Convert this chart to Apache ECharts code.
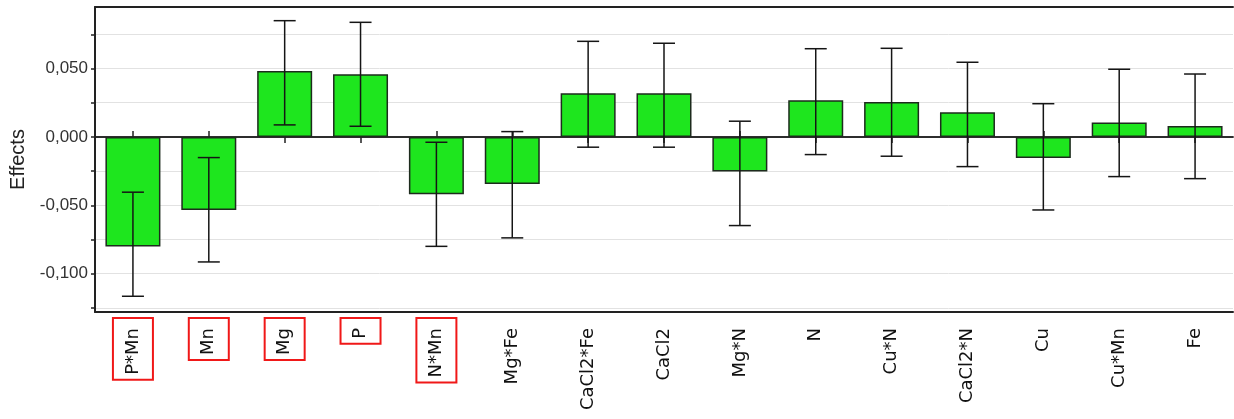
<!DOCTYPE html>
<html>
<head>
<meta charset="utf-8">
<script src="https://cdn.jsdelivr.net/npm/echarts@6/dist/echarts.min.js"></script>
<style>html,body{margin:0;padding:0;background:#fff}#c{width:1234px;height:419px}</style>
</head>
<body>
<div id="c"></div>
<script>
const categories = ['P*Mn','Mn','Mg','P','N*Mn','Mg*Fe','CaCl2*Fe','CaCl2','Mg*N','N','Cu*N','CaCl2*N','Cu','Cu*Mn','Fe'];
const effects = [-0.0802, -0.0534, 0.0482, 0.0458, -0.0419, -0.0344, 0.0319, 0.0319, -0.0253, 0.0268, 0.0256, 0.0180, -0.0154, 0.0105, 0.0080];
const errLow  = [-0.1165, -0.0914, 0.0088, 0.0078, -0.0800, -0.0738, -0.0075, -0.0075, -0.0648, -0.0129, -0.0141, -0.0217, -0.0534, -0.0290, -0.0305];
const errHigh = [-0.0404, -0.0151, 0.0850, 0.0838, -0.0039, 0.0039, 0.0699, 0.0685, 0.0115, 0.0645, 0.0648, 0.0546, 0.0243, 0.0495, 0.0460];
const highlighted = ['P*Mn','Mn','Mg','P','N*Mn'];
const yTicks = [-0.125, -0.1, -0.075, -0.05, -0.025, 0, 0.025, 0.05, 0.075];
const yLabels = [-0.1, -0.05, 0, 0.05];

const chart = echarts.init(document.getElementById('c'));
const fmt = v => (v < 0 ? '-' : '') + Math.abs(v).toFixed(3).replace('.', ',');
const baseX = {type: 'category', data: categories, gridIndex: 0};
const yMin = -0.128, yMax = 0.095;
const labelFont = {fontFamily: 'DejaVu Sans', fontSize: 18, color: '#111', padding: [11, 10, 11, 5]};

chart.setOption({
  animation: false,
  grid: {left: 95, right: 1, top: 7, bottom: 107, outerBoundsMode: 'none', containLabel: false},
  xAxis: [
    Object.assign({}, baseX, {
      position: 'bottom',
      axisLine: {onZero: false, lineStyle: {color: '#222', width: 2}},
      axisTick: {show: false},
      axisLabel: {
        interval: 0, rotate: 90, margin: 6,
        formatter: v => highlighted.includes(v) ? '{box|' + v + '}' : '{n|' + v + '}',
        rich: {
          box: Object.assign({borderColor: '#f01818', borderWidth: 2}, labelFont),
          n: Object.assign({}, labelFont)
        }
      }
    }),
    Object.assign({}, baseX, {
      position: 'top',
      axisLine: {onZero: false, lineStyle: {color: '#222', width: 2}},
      axisTick: {show: false}, axisLabel: {show: false}
    }),
    Object.assign({}, baseX, {
      position: 'bottom',
      axisLine: {onZero: true, onZeroAxisIndex: 0, lineStyle: {color: '#222', width: 1.5}},
      axisTick: {show: true, alignWithLabel: true, inside: false, length: 6, lineStyle: {color: '#222', width: 1.5}},
      axisLabel: {show: false}
    }),
    Object.assign({}, baseX, {
      position: 'bottom',
      axisLine: {onZero: true, onZeroAxisIndex: 1, lineStyle: {color: '#222', width: 1.5}},
      axisTick: {show: true, alignWithLabel: true, inside: true, length: 6, lineStyle: {color: '#222', width: 1.5}},
      axisLabel: {show: false}
    })
  ],
  yAxis: [{
    type: 'value', min: yMin, max: yMax,
    name: 'Effects', nameLocation: 'middle', nameGap: 64,
    nameTextStyle: {fontFamily: 'Liberation Sans', fontSize: 20, color: '#222'},
    axisLine: {show: true, lineStyle: {color: '#222', width: 2}},
    axisTick: {show: true, length: 4, customValues: yTicks, lineStyle: {color: '#222', width: 1.5}},
    axisLabel: {customValues: yLabels, formatter: fmt, margin: 7, fontFamily: 'Liberation Sans', fontSize: 17, color: '#333'},
    splitLine: {show: true, lineStyle: {color: '#e2e2e2', width: 1}}
  }, {
    type: 'value', min: yMin, max: yMax, position: 'left',
    axisLine: {show: false}, axisTick: {show: false}, axisLabel: {show: false}, splitLine: {show: false}
  }],
  series: [
    {
      type: 'bar', xAxisIndex: 0, yAxisIndex: 0, data: effects, barWidth: 55, z: 3,
      itemStyle: {color: '#1ee61e', borderColor: '#1d2b1d', borderWidth: 1.5}
    },
    {
      type: 'custom', xAxisIndex: 0, yAxisIndex: 0, z: 4,
      data: categories.map((c, i) => [i, errLow[i], errHigh[i]]),
      renderItem: (params, api) => {
        const lo = api.coord([api.value(0), api.value(1)]);
        const hi = api.coord([api.value(0), api.value(2)]);
        const w = 11;
        const st = {stroke: '#151515', lineWidth: 1.5};
        return {type: 'group', children: [
          {type: 'line', shape: {x1: lo[0], y1: lo[1], x2: hi[0], y2: hi[1]}, style: st},
          {type: 'line', shape: {x1: lo[0] - w, y1: lo[1], x2: lo[0] + w, y2: lo[1]}, style: st},
          {type: 'line', shape: {x1: hi[0] - w, y1: hi[1], x2: hi[0] + w, y2: hi[1]}, style: st}
        ]};
      }
    }
  ]
});
</script>
</body>
</html>
